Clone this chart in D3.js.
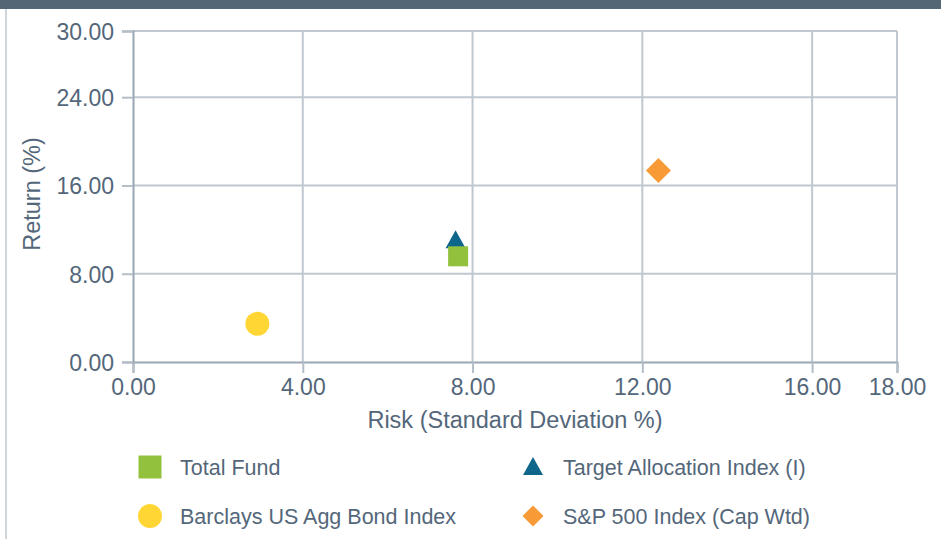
<!DOCTYPE html>
<html><head><meta charset="utf-8">
<script src="https://cdn.jsdelivr.net/npm/d3@7"></script>
<style>
html,body{margin:0;padding:0;background:#fff;}
svg{display:block;font-family:"Liberation Sans",Arial,sans-serif;}
</style></head>
<body>
<svg id="chart" width="941" height="539"></svg>
<script>
const categories = ["Total Fund", "Target Allocation Index (I)", "Barclays US Agg Bond Index", "S&P 500 Index (Cap Wtd)"];
const riskValues = [7.66, 7.60, 2.93, 12.38];
const returnValues = [9.58, 10.85, 3.46, 17.36];
const symbols = ["square", "triangle", "circle", "diamond"];
const colors = ["#92c13e", "#0e668b", "#ffd633", "#f89a35"];
const xTicks = [0, 4, 8, 12, 16, 18];
const yTicks = [0, 8, 16, 24, 30];
const xTitle = "Risk (Standard Deviation %)";
const yTitle = "Return (%)";

const svg = d3.select("#chart");
const W = 941, H = 539;
const m = {left:133, right:897, top:31, bottom:362};
const textColor = "#54677a";

// frame decorations
svg.append("rect").attr("x",0).attr("y",0).attr("width",W).attr("height",9).attr("fill","#536676");
svg.append("line").attr("x1",6).attr("x2",6).attr("y1",9).attr("y2",H).attr("stroke","#cdd4db").attr("stroke-width",2);

const x = d3.scaleLinear().domain([0,18]).range([m.left, m.right]);
const y = d3.scaleLinear().domain([0,30]).range([m.bottom, m.top]);

// grid
const g = svg.append("g");
g.selectAll(".vg").data(xTicks.filter(d=>d>0)).join("line")
  .attr("x1",d=>x(d)).attr("x2",d=>x(d)).attr("y1",m.top).attr("y2",m.bottom)
  .attr("stroke","#bfc8d1").attr("stroke-width",2);
g.selectAll(".hg").data(yTicks.filter(d=>d>0)).join("line")
  .attr("x1",m.left).attr("x2",m.right).attr("y1",d=>y(d)).attr("y2",d=>y(d))
  .attr("stroke","#bfc8d1").attr("stroke-width",2);

// axes
const xAxis = d3.axisBottom(x).tickValues(xTicks).tickFormat(d3.format(".2f")).tickSize(11).tickPadding(6);
const yAxis = d3.axisLeft(y).tickValues(yTicks).tickFormat(d3.format(".2f")).tickSize(11).tickPadding(8);
const gx = svg.append("g").attr("transform",`translate(0,${m.bottom})`).call(xAxis);
const gy = svg.append("g").attr("transform",`translate(${m.left},0)`).call(yAxis);
[gx,gy].forEach(a=>{
  a.select(".domain").attr("stroke","#9aa7b3").attr("stroke-width",2);
  a.selectAll(".tick line").attr("stroke","#b4bec8").attr("stroke-width",2);
  a.selectAll(".tick text").attr("fill",textColor).attr("font-size",23).attr("font-family","'Liberation Sans',Arial,sans-serif");
});
gy.selectAll(".tick text").attr("dy","0.36em");

svg.append("text").attr("x",(m.left+m.right)/2).attr("y",428).attr("text-anchor","middle")
  .attr("fill",textColor).attr("font-size",23.5).text(xTitle);
svg.append("text").attr("transform",`translate(40,194) rotate(-90)`).attr("text-anchor","middle")
  .attr("fill",textColor).attr("font-size",23.5).text(yTitle);

// symbol paths
function shape(type, s){
  if(type==="square") return `M${-s/2},${-s/2}h${s}v${s}h${-s}Z`;
  if(type==="circle") return d3.symbol(d3.symbolCircle, Math.PI*(s/2)*(s/2))();
  if(type==="triangle"){ const h=s*0.9; return `M0,${-h*2/3}L${s/2},${h/3}L${-s/2},${h/3}Z`; }
  if(type==="diamond"){ const r=s/2; return `M0,${-r}L${r},0L0,${r}L${-r},0Z`; }
}
const pointSizes = {square:20, triangle:20, circle:24, diamond:25};
const order = [1,0,2,3];
svg.append("g").selectAll("path").data(order).join("path")
  .attr("d",i=>shape(symbols[i], pointSizes[symbols[i]]))
  .attr("transform",i=>`translate(${x(riskValues[i])},${y(returnValues[i])})`)
  .attr("fill",i=>colors[i]);

// legend
const legendPos = [[150,467],[533,467],[150,516],[533,516]];
const legendSizes = {square:23, triangle:20, circle:24, diamond:21};
const lg = svg.append("g");
categories.forEach((c,i)=>{
  const [lx,ly] = legendPos[i];
  lg.append("path").attr("d",shape(symbols[i], legendSizes[symbols[i]]))
    .attr("transform",`translate(${lx},${ly + (symbols[i]==="triangle"?2:0)})`).attr("fill",colors[i]);
  lg.append("text").attr("x",lx+30).attr("y",ly).attr("dy","0.35em")
    .attr("fill",textColor).attr("font-size",21.5).text(c);
});
</script>
</body></html>
